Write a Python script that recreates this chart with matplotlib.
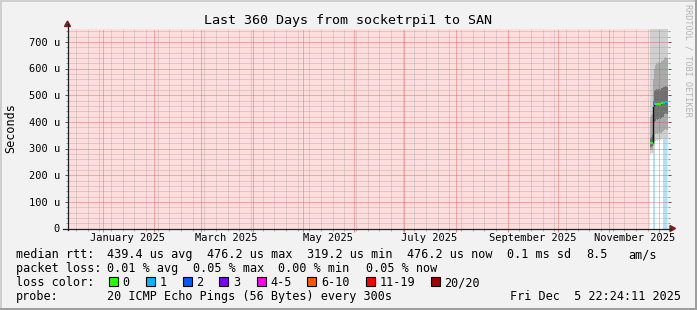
import numpy as np
import pandas as pd
import matplotlib
matplotlib.use('Agg')
import matplotlib.pyplot as plt
import matplotlib.dates as mdates
import matplotlib.transforms as mtransforms
from matplotlib.ticker import MultipleLocator, FuncFormatter, NullFormatter
from matplotlib.patches import Rectangle, Polygon
from matplotlib.lines import Line2D

#SmokePing style graph: last 360 days of ping rtt from socketrpi1 to SAN

W, H = 697, 310

t_end = pd.Timestamp('2025-12-05 22:24:11')
t_start = t_end - pd.Timedelta(days=360)

#one sample per pixel column (only the last ~10 days have data)
times = ['2025-11-25 17:36', '2025-11-26 08:00', '2025-11-26 22:24', '2025-11-27 12:48',
         '2025-11-28 03:12', '2025-11-28 17:36', '2025-11-29 08:00', '2025-11-29 22:24',
         '2025-11-30 12:48', '2025-12-01 03:12', '2025-12-01 17:36', '2025-12-02 08:00',
         '2025-12-02 22:24', '2025-12-03 12:48', '2025-12-04 03:12', '2025-12-04 17:36',
         '2025-12-05 08:00']

#values in microseconds
median_us = [319, 319, 320, 458, 466, 468, 468, 468, 468, 468, 468, 469, 469, 470, 472, 476, 476]
loss_pings = [0, 0, 0, 1, 1, 0, 0, 0, 0, 0, 0, 0, 0, 1, 1, 1, 1]
smoke_lo = [280, 282, 285, 285, 285, 330, 332, 330, 333, 335, 332, 334, 336, 337, 337, 337, 337]
smoke_p10 = [295, 296, 298, 310, 330, 355, 358, 356, 360, 362, 358, 360, 362, 364, 370, 372, 370]
smoke_p25 = [305, 306, 308, 330, 400, 405, 410, 408, 412, 414, 410, 415, 418, 420, 430, 432, 430]
smoke_p75 = [340, 345, 350, 480, 515, 520, 522, 520, 525, 524, 520, 526, 528, 530, 532, 535, 530]
smoke_p90 = [420, 425, 430, 560, 600, 615, 620, 618, 625, 622, 620, 628, 630, 632, 640, 645, 640]
smoke_hi = [800] * 17

loss_colors = ['#26ff00', '#00b8ff', '#0059ff', '#7e00ff', '#ff00ea', '#ff5500', '#ff0000', '#a10000']
loss_labels = ['0', '1', '2', '3', '4-5', '6-10', '11-19', '20/20']

month_labels = ['2025-01', '2025-03', '2025-05', '2025-07', '2025-09', '2025-11']

plt.rcParams['font.family'] = ['DejaVu Sans Mono']

def fx(x):
    return x / W

def fy(y):
    return 1 - y / H

tnum = mdates.date2num(pd.to_datetime(times))
tend = mdates.date2num(t_end)
xe = np.append(tnum, tend)

def ext(v):
    v = np.array(v, dtype=float) * 1e-6
    return np.append(v, v[-1])

fig = plt.figure(figsize=(W / 100, H / 100), dpi=100, facecolor='#f2f2f2')
ax = fig.add_axes([fx(67.5), fy(228.5), 600 / W, 200 / H])
ax.set_facecolor('#ffdddd')
ax.xaxis_date()

#known data area is white
ax.axvspan(tnum[0], tend, color='white', zorder=0.5, lw=0)

#loss bars under the smoke
for i in range(len(tnum)):
    if loss_pings[i] > 0:
        ax.bar(xe[i], smoke_lo[i] * 1e-6, width=xe[i + 1] - xe[i], align='edge',
               color='#b0e2f8', lw=0, zorder=0.8)

#smoke
ax.fill_between(xe, ext(smoke_p90), ext(smoke_hi), step='post', color='#d0d0d0', lw=0)
ax.fill_between(xe, ext(smoke_p75), ext(smoke_p90), step='post', color='#aaaaaa', lw=0)
ax.fill_between(xe, ext(smoke_p25), ext(smoke_p75), step='post', color='#707070', lw=0)
ax.fill_between(xe, ext(smoke_p10), ext(smoke_p25), step='post', color='#aaaaaa', lw=0)
ax.fill_between(xe, ext(smoke_lo), ext(smoke_p10), step='post', color='#d0d0d0', lw=0)

#median: vertical connectors + loss coloured steps
med = np.array(median_us) * 1e-6
ax.vlines(tnum[1:], med[:-1], med[1:], color='#111111', lw=1.0, zorder=3)
for i in range(len(tnum)):
    c = loss_colors[min(loss_pings[i], len(loss_colors) - 1)]
    ax.hlines(med[i], xe[i], xe[i + 1], color=c, lw=1.6, zorder=3.2)

ax.set_xlim(mdates.date2num(t_start), tend)
ax.set_ylim(0, 750e-6)

#grid like rrdtool, dotted and drawn over the data
ax.set_axisbelow(False)
ax.xaxis.set_major_locator(mdates.MonthLocator())
ax.xaxis.set_minor_locator(mdates.WeekdayLocator(byweekday=mdates.MO))
ax.xaxis.set_major_formatter(NullFormatter())
ax.xaxis.set_minor_formatter(NullFormatter())
ax.yaxis.set_major_locator(MultipleLocator(100e-6))
ax.yaxis.set_minor_locator(MultipleLocator(20e-6))
ax.yaxis.set_major_formatter(FuncFormatter(lambda v, p: '0' if abs(v) < 1e-9 else '%d u' % round(v * 1e6)))
ax.grid(True, which='minor', color='#8f8f8f', alpha=0.55, linestyle=(0, (1, 1)), linewidth=0.72)
ax.grid(True, which='major', color='#de4f4f', alpha=0.75, linestyle=(0, (1, 1)), linewidth=0.72)

ax.tick_params(axis='y', which='major', direction='out', length=2.2, width=0.72, color='#555555',
               labelsize=7.45, pad=3.3, right=True)
ax.tick_params(axis='y', which='minor', direction='out', length=1.44, width=0.72, color='#999999', right=True)
ax.tick_params(axis='x', which='major', direction='out', length=2.2, width=0.72, color='#e08080')
ax.tick_params(axis='x', which='minor', direction='out', length=1.44, width=0.72, color='#aaaaaa')
for s in ax.spines.values():
    s.set_visible(False)

#month labels centred half a month after the month start
trans = mtransforms.blended_transform_factory(ax.transData, ax.transAxes)
for m in month_labels:
    d = pd.Timestamp(m + '-01')
    ax.text(mdates.date2num(d + pd.Timedelta(days=15)), -(241 - 228.5) / 200, d.strftime('%B %Y'),
            transform=trans, ha='center', va='baseline', fontsize=7.45)

#axis lines and arrows
axc = '#1f1f1f'
arc = '#801f1f'
fig.add_artist(Line2D([fx(67.5), fx(67.5)], [fy(230), fy(24)], color=axc, lw=0.9, transform=fig.transFigure))
fig.add_artist(Line2D([fx(63), fx(671)], [fy(228.5), fy(228.5)], color=axc, lw=0.9, transform=fig.transFigure))
fig.add_artist(Polygon([[fx(67.5), fy(21)], [fx(64.5), fy(26.5)], [fx(70.5), fy(26.5)]], closed=True,
                       color=arc, transform=fig.transFigure))
fig.add_artist(Polygon([[fx(675.5), fy(228.5)], [fx(670), fy(225.5)], [fx(670), fy(231.5)]], closed=True,
                       color=arc, transform=fig.transFigure))

#shaded frame
fig.add_artist(Rectangle((0, fy(2)), 1, 2 / H, color='#cfcfcf', transform=fig.transFigure, lw=0))
fig.add_artist(Rectangle((0, 0), 2 / W, 1, color='#cfcfcf', transform=fig.transFigure, lw=0))
fig.add_artist(Rectangle((0, 0), 1, 2 / H, color='#9e9e9e', transform=fig.transFigure, lw=0))
fig.add_artist(Rectangle((1 - 2 / W, 0), 2 / W, 1, color='#9e9e9e', transform=fig.transFigure, lw=0))

#title, unit, watermark
fig.text(fx(348), fy(24), 'Last 360 Days from socketrpi1 to SAN', ha='center', va='baseline', fontsize=9.6)
fig.text(fx(11), fy(128), 'Seconds', rotation=90, ha='center', va='center', fontsize=8.5)
fig.text(fx(688), fy(4), 'RRDTOOL / TOBI OETIKER', rotation=270, ha='center', va='top',
         fontsize=6.1, color='#b4b4b4')

#legend
fs = 8.5
fig.text(fx(16), fy(258), 'median rtt:', fontsize=fs, va='baseline')
for x, s in [(107, '439.4 us avg'), (207, '476.2 us max'), (307, '319.2 us min'),
             (407, '476.2 us now'), (507, '0.1 ms sd'), (586, '8.5'), (628, 'am/s')]:
    fig.text(fx(x), fy(258), s, fontsize=fs, va='baseline')
fig.text(fx(16), fy(272), 'packet loss:', fontsize=fs, va='baseline')
for x, s in [(107, '0.01 % avg'), (193, '0.05 % max'), (278, '0.00 % min'), (366, '0.05 % now')]:
    fig.text(fx(x), fy(272), s, fontsize=fs, va='baseline')
fig.text(fx(16), fy(286), 'loss color:', fontsize=fs, va='baseline')
box_x = [108.7, 146, 182.7, 219.3, 256.7, 307.3, 365.7, 430.7]
for bx, c, lab in zip(box_x, loss_colors, loss_labels):
    fig.add_artist(Rectangle((fx(bx), fy(286)), 9 / W, 9 / H, facecolor=c, edgecolor='black', lw=0.8,
                             transform=fig.transFigure))
    fig.text(fx(bx + 13.5), fy(286), lab, fontsize=fs, va='baseline')
fig.text(fx(16), fy(300), 'probe:', fontsize=fs, va='baseline')
fig.text(fx(107), fy(300), '20 ICMP Echo Pings (56 Bytes) every 300s', fontsize=fs, va='baseline')
fig.text(fx(681), fy(300), 'Fri Dec  5 22:24:11 2025', fontsize=fs, va='baseline', ha='right')

fig.savefig('out.png', dpi=100, facecolor=fig.get_facecolor())
